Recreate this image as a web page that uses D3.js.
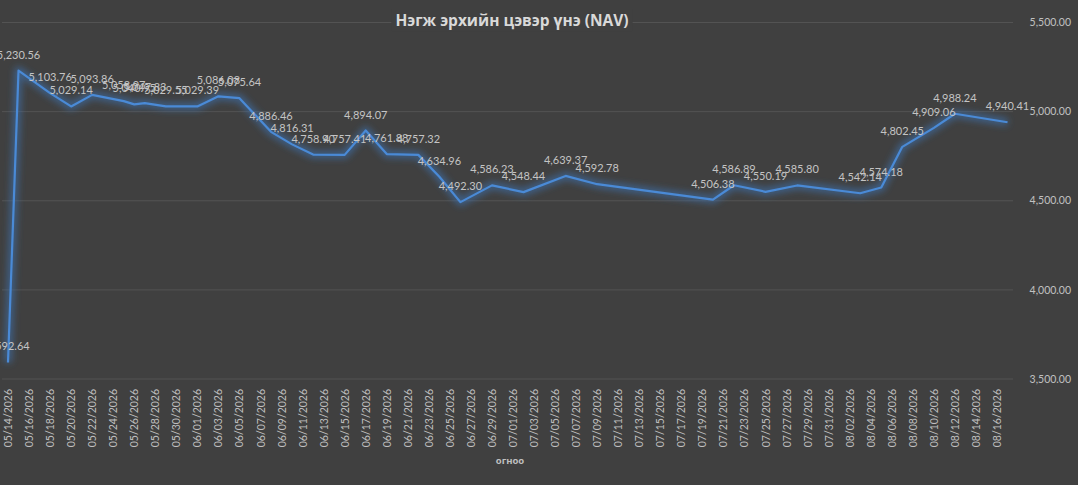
<!DOCTYPE html>
<html>
<head>
<meta charset="utf-8">
<script src="https://cdn.jsdelivr.net/npm/d3@7"></script>
<style>
  html, body { margin: 0; padding: 0; background: #404040; }
  svg { display: block; }
</style>
</head>
<body>
<div class="chart-container"></div>
<script>
// NAV per unit
const dates = [
  "2026-05-14", "2026-05-15", "2026-05-18", "2026-05-20", "2026-05-22",
  "2026-05-25", "2026-05-26", "2026-05-27", "2026-05-29", "2026-06-01",
  "2026-06-03", "2026-06-05", "2026-06-08", "2026-06-10", "2026-06-12",
  "2026-06-15", "2026-06-17", "2026-06-19", "2026-06-22", "2026-06-24",
  "2026-06-26", "2026-06-29", "2026-07-02", "2026-07-06", "2026-07-09",
  "2026-07-20", "2026-07-22", "2026-07-25", "2026-07-28", "2026-08-03",
  "2026-08-05", "2026-08-07", "2026-08-10", "2026-08-12", "2026-08-17"
];
const navValues = [
  3592.64, 5230.56, 5103.76, 5029.14, 5093.86,
  5058.97, 5040.95, 5047.83, 5029.55, 5029.39,
  5086.08, 5075.64, 4886.46, 4816.31, 4758.90,
  4757.41, 4894.07, 4761.88, 4757.32, 4634.96,
  4492.30, 4586.23, 4548.44, 4639.37, 4592.78,
  4506.38, 4586.89, 4550.19, 4585.80, 4542.14,
  4574.18, 4802.45, 4909.06, 4988.24, 4940.41
];
const yTicks = [3500, 4000, 4500, 5000, 5500];
const xTickStart = "2026-05-14";
const xTickEnd = "2026-08-16";
const chartTitle = "Нэгж эрхийн цэвэр үнэ (NAV)";
const xAxisTitle = "огноо";

function draw() {
    const width = 1078;
    const height = 485;

    const parse = d3.utcParse("%Y-%m-%d");
    const fmtDate = d3.utcFormat("%m/%d/%Y");
    const fmtNum = d3.format(",.2f");

    const data = dates.map((d, i) => ({ date: parse(d), value: navValues[i] }));

    const plotLeft = 2;
    const plotRight = 1013;

    const x = d3.scaleUtc()
        .domain([parse(xTickStart), parse(xTickEnd)])
        .range([8, 997]);

    const y = d3.scaleLinear()
        .domain([3500, 5500])
        .range([379, 22.5]);

    const svg = d3.select('.chart-container').append("svg")
        .attr("width", width)
        .attr("height", height);

    svg.append("rect")
        .attr("width", width)
        .attr("height", height)
        .attr("fill", "#404040");

    const defs = svg.append("defs");
    const glow = defs.append("filter")
        .attr("id", "glow")
        .attr("x", "-10%").attr("y", "-10%")
        .attr("width", "120%").attr("height", "120%");
    glow.append("feGaussianBlur").attr("stdDeviation", 3.5);

    defs.append("clipPath").attr("id", "plot-clip")
        .append("rect")
        .attr("x", 0).attr("y", 0)
        .attr("width", plotRight + 10).attr("height", height);

    // gridlines
    svg.append("g")
        .selectAll("line")
        .data(yTicks)
        .join("line")
        .attr("x1", plotLeft)
        .attr("x2", plotRight)
        .attr("y1", d => y(d))
        .attr("y2", d => y(d))
        .attr("stroke", "#535353")
        .attr("stroke-width", 1);

    // right y axis labels
    svg.append("g")
        .selectAll("text")
        .data(yTicks)
        .join("text")
        .attr("x", 1071)
        .attr("y", d => y(d))
        .attr("dy", "0.35em")
        .attr("text-anchor", "end")
        .attr("fill", "#c0c0c0")
        .style("font", "10.5px Lato, 'Open Sans', sans-serif")
        .text(d => fmtNum(d));

    // x axis tick labels every 2 days
    const xTicks = d3.utcDay.range(parse(xTickStart), d3.utcDay.offset(parse(xTickEnd), 1), 2);
    svg.append("g")
        .selectAll("text")
        .data(xTicks)
        .join("text")
        .attr("transform", d => `translate(${x(d) + 4},389) rotate(-90)`)
        .attr("text-anchor", "end")
        .attr("fill", "#bfbfbf")
        .style("font", "10.5px Lato, 'Open Sans', sans-serif")
        .text(d => fmtDate(d));

    const line = d3.line()
        .x(d => x(d.date))
        .y(d => y(d.value));

    const plot = svg.append("g").attr("clip-path", "url(#plot-clip)");

    plot.append("path")
        .datum(data)
        .attr("d", line)
        .attr("fill", "none")
        .attr("stroke", "#3e6fa8")
        .attr("stroke-opacity", 0.75)
        .attr("stroke-width", 7)
        .attr("stroke-linejoin", "round")
        .attr("filter", "url(#glow)");

    plot.append("path")
        .datum(data)
        .attr("d", line)
        .attr("fill", "none")
        .attr("stroke", "#4a8ad6")
        .attr("stroke-width", 2.2)
        .attr("stroke-linejoin", "round");

    // data labels above points
    svg.append("g")
        .selectAll("text")
        .data(data)
        .join("text")
        .attr("x", d => x(d.date))
        .attr("y", d => y(d.value) - 12)
        .attr("text-anchor", "middle")
        .attr("fill", "#c4c4c4")
        .style("font", "11px Lato, 'Open Sans', sans-serif")
        .text(d => fmtNum(d.value));

    // title with a background box so the gridline breaks behind it
    const titleG = svg.append("g");
    const titleBg = titleG.append("rect").attr("fill", "#404040");
    const title = titleG.append("text")
        .attr("x", 512)
        .attr("y", 21)
        .attr("dy", "0.35em")
        .attr("text-anchor", "middle")
        .attr("fill", "#d9d9d9")
        .style("font", "bold 15.5px 'Open Sans', sans-serif")
        .text(chartTitle);
    const tb = title.node().getBBox();
    titleBg
        .attr("x", tb.x - 4)
        .attr("y", tb.y)
        .attr("width", tb.width + 8)
        .attr("height", tb.height);

    svg.append("text")
        .attr("x", 510)
        .attr("y", 461)
        .attr("dy", "0.35em")
        .attr("text-anchor", "middle")
        .attr("fill", "#bfbfbf")
        .style("font", "bold 9.5px 'Open Sans', sans-serif")
        .text(xAxisTitle);
}

draw();
</script>
</body>
</html>
